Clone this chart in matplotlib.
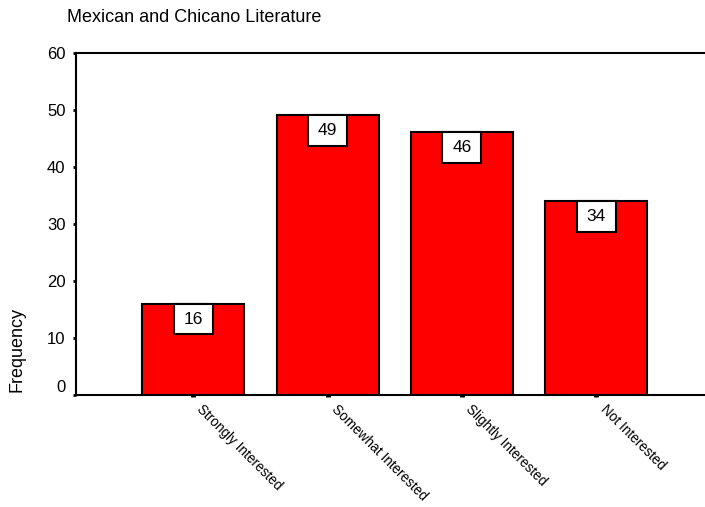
import matplotlib
matplotlib.use("Agg")
import matplotlib.pyplot as plt
from matplotlib import font_manager
from matplotlib.patches import Rectangle

plt.rcParams['font.family'] = ['Liberation Sans', 'DejaVu Sans']

# Дані
categories = ["Strongly Interested", "Somewhat Interested", "Slightly Interested", "Not Interested"]
frequency = [16, 49, 46, 34]
y_ticks = [0, 10, 20, 30, 40, 50, 60]
title = "Mexican and Chicano Literature"

# Вужчий шрифт для похилих підписів, якщо він є
installed = {f.name for f in font_manager.fontManager.ttflist}
if "Liberation Sans Narrow" in installed:
    label_family, label_size = "Liberation Sans Narrow", 11
else:
    label_family, label_size = "Liberation Sans", 9.8

fig = plt.figure(figsize=(7.05, 5.07), dpi=100)
ax = fig.add_axes([0.1078, 0.2209, 0.8922, 0.6755])

x = list(range(len(categories)))
ax.bar(x, frequency, width=0.76, color="#ff0000", edgecolor="black", linewidth=1.5, zorder=2)

# Підписи значень у білих рамках біля верхівки стовпця
box_w, box_h = 0.29, 5.4
for xi, v in zip(x, frequency):
    ax.add_patch(Rectangle((xi - box_w / 2, v - box_h), box_w, box_h,
                           facecolor="white", edgecolor="black", linewidth=1.5, zorder=3))
    ax.text(xi, v - box_h / 2, str(v), ha="center", va="center", fontsize=12.5, zorder=4)

ax.set_xlim(-0.873, 3.81)
ax.set_ylim(0, 60)
ax.set_yticks(y_ticks)
ax.set_yticklabels([str(t) for t in y_ticks], fontsize=12)
ax.set_xticks(x)
ax.set_xticklabels([])
ax.get_yticklabels()[0].set_va("bottom")

# Похилі підписи категорій
for xi, name in zip(x, categories):
    ax.annotate(name, xy=(xi, 0), xycoords="data", xytext=(8, -5),
                textcoords="offset points", rotation=-45, ha="left", va="top",
                rotation_mode="anchor", fontsize=label_size, family=label_family,
                annotation_clip=False)

ax.tick_params(axis="y", direction="out", length=2.5, width=2, pad=5)
ax.tick_params(axis="x", direction="out", length=1.2, width=3.5, pad=3)

for side in ["left", "top", "bottom"]:
    ax.spines[side].set_linewidth(1.5)
ax.spines["right"].set_visible(False)

fig.text(67 / 705, 1 - 17 / 507, title, ha="left", va="center", fontsize=13)
fig.text(17 / 705, 1 - 350 / 507, "Frequency", ha="center", va="center",
         rotation=90, fontsize=13)

fig.savefig("out.png", dpi=100)
